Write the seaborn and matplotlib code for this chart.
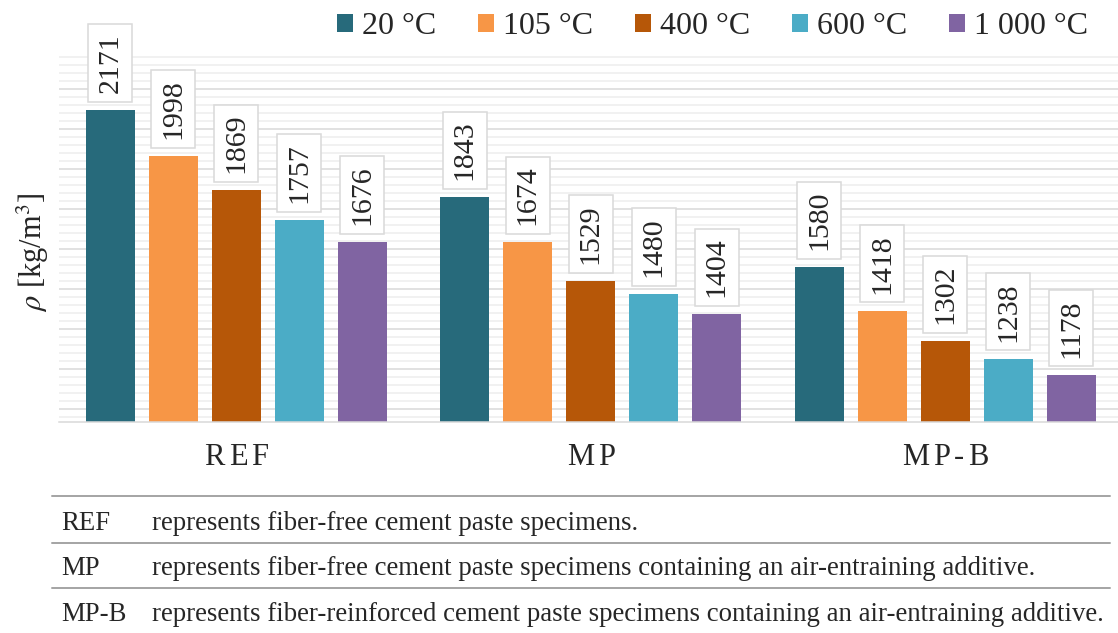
import numpy as np
import pandas as pd
import matplotlib
matplotlib.use("Agg")
import matplotlib.pyplot as plt
from matplotlib.lines import Line2D
from matplotlib.ticker import MultipleLocator, FixedLocator
import seaborn as sns

# ---------------- data ----------------
groups = ["REF", "MP", "MP-B"]
temps = ["20 °C", "105 °C", "400 °C", "600 °C", "1 000 °C"]
ref_vals = [2171, 1998, 1869, 1757, 1676]
mp_vals = [1843, 1674, 1529, 1480, 1404]
mpb_vals = [1580, 1418, 1302, 1238, 1178]
colors = ["#276A7B", "#F79646", "#B65708", "#4BACC6", "#8064A2"]
table_keys = ["REF", "MP", "MP-B"]
table_desc = [
    "represents fiber-free cement paste specimens.",
    "represents fiber-free cement paste specimens containing an air-entraining additive.",
    "represents fiber-reinforced cement paste specimens containing an air-entraining additive.",
]

rows = []
for g, vals in zip(groups, [ref_vals, mp_vals, mpb_vals]):
    for t, v in zip(temps, vals):
        rows.append({"group": g, "temp": t, "value": v})
df = pd.DataFrame(rows)

# ---------------- style ----------------
sns.set_style("white")
plt.rcParams["font.family"] = ["Liberation Serif", "DejaVu Serif"]
plt.rcParams["mathtext.fontset"] = "stix"

W, H = 1118, 633
fig = plt.figure(figsize=(W / 100, H / 100), dpi=100)
px = 0.72  # points per pixel at dpi 100

ax_left, ax_right = 59, 1122.5
ax_top, ax_bottom = 53.2, 422
ax = fig.add_axes([ax_left / W, 1 - ax_bottom / H, (ax_right - ax_left) / W, (ax_bottom - ax_top) / H])

sns.barplot(data=df, x="group", y="value", hue="temp", palette=colors,
            width=0.8885, gap=0.229, errorbar=None, ax=ax, linewidth=0,
            saturation=1)

ax.set_xlim(-0.5, 2.5)
ax.set_ylim(1000, 2383)

# grid
ax.set_axisbelow(True)
ax.yaxis.set_major_locator(MultipleLocator(150))
ax.yaxis.set_minor_locator(MultipleLocator(30))
ax.grid(axis="y", which="minor", color="#EDEDED", linewidth=1.1)
ax.grid(axis="y", which="major", color="#D9D9D9", linewidth=1.1)
ax.tick_params(axis="y", which="both", left=False, labelleft=False)

# x axis: ticks at group boundaries, labels drawn as letter-spaced text at centers
ax.xaxis.set_major_locator(FixedLocator([-0.5, 0.5, 1.5, 2.5]))
ax.set_xticklabels([])
ax.tick_params(axis="x", which="major", length=10 * px, width=1.1, color="#D9D9D9", direction="out")
ax.set_xlabel("")
ax.set_ylabel("")

for s in ["left", "right", "top"]:
    ax.spines[s].set_visible(False)
ax.spines["bottom"].set_color("#D9D9D9")
ax.spines["bottom"].set_linewidth(1.1)

renderer = fig.canvas.get_renderer()

# letter-spaced category labels
cat_fs = 22
tracking = 4.0  # px between letters
for i, g in enumerate(groups):
    widths = []
    for ch in g:
        t = fig.text(0, 0, ch, fontsize=cat_fs)
        widths.append(t.get_window_extent(renderer).width)
        t.remove()
    total = sum(widths) + tracking * (len(g) - 1)
    xc_px = ax.transData.transform((i, 1000))[0]
    x0 = xc_px - total / 2
    for ch, w in zip(g, widths):
        fig.text(x0 / W, 1 - 465 / H, ch, fontsize=cat_fs, ha="left", va="baseline")
        x0 += w + tracking

# data labels
for cont in ax.containers:
    ax.bar_label(cont, fmt="%.0f", rotation=90, padding=17 * px, fontsize=21.5,
                 bbox=dict(boxstyle="square,pad=0.3", fc="white", ec="#D9D9D9", lw=1.1))

# legend
handles, labels = ax.get_legend_handles_labels()
if ax.get_legend() is not None:
    ax.get_legend().remove()
fig.legend(handles, labels, loc="center right", bbox_to_anchor=(1088 / W, 1 - 27 / H),
           ncol=5, frameon=False, borderpad=0, borderaxespad=0, fontsize=23,
           handlelength=0.52, handleheight=0.52, handletextpad=0.27, columnspacing=1.3)

# y label
fig.text(33 / W, 1 - 252 / H, r"$\rho$ [kg/m$^3$]", rotation=90, ha="center", va="center", fontsize=22)

# bottom table
for yl in [496, 543, 588]:
    fig.add_artist(Line2D([52 / W, 1110 / W], [1 - yl / H, 1 - yl / H], color="#A6A6A6", lw=2 * px))

# fit table font size so the longest description spans ~951 px
probe = fig.text(0, 0, table_desc[2], fontsize=18)
wpx = probe.get_window_extent(renderer).width
probe.remove()
tfs = 18 * 951 / wpx

for key, desc, base in zip(table_keys, table_desc, [530, 575, 621]):
    fig.text(61 / W, 1 - base / H, key, ha="left", va="baseline", fontsize=tfs)
    fig.text(152 / W, 1 - base / H, desc, ha="left", va="baseline", fontsize=tfs)

fig.savefig("out.png", dpi=100)
